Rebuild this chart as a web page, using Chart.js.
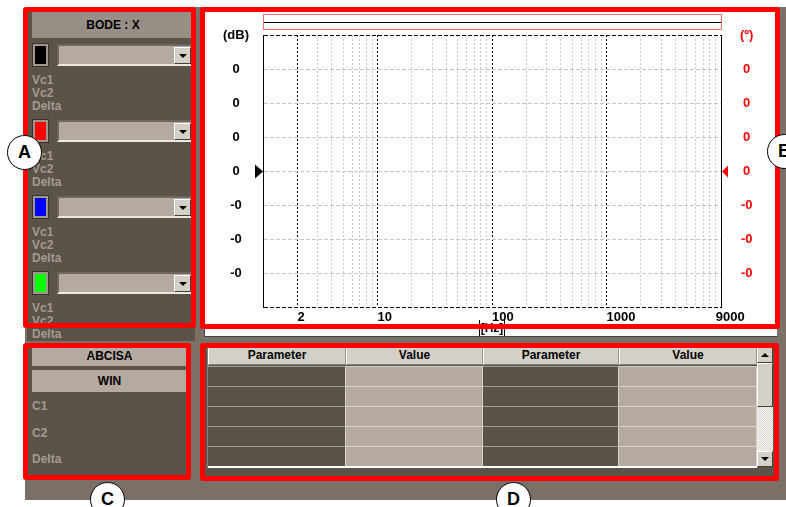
<!DOCTYPE html>
<html>
<head>
<meta charset="utf-8">
<script src="https://cdn.jsdelivr.net/npm/chart.js@4.4.1/dist/chart.umd.min.js"></script>
<style>
  html, body { margin: 0; padding: 0; }
  body {
    width: 786px; height: 507px; position: relative; overflow: hidden; background: #fff;
    font-family: "Liberation Sans", Arial, sans-serif; font-weight: bold; font-size: 12px;
  }
  .box { position: absolute; box-sizing: border-box; }
  .red { position: absolute; box-sizing: border-box; border: 5px solid #ff0000; border-radius: 3px; }
  .btn { background: #b4aaa1; color: #000; text-align: center; }
  .lbl { position: absolute; color: #a39b93; line-height: 13px; }
  .bevel { background: #d4d0c8; border: 1px solid; border-color: #fff #404040 #404040 #fff; }
  .circle {
    position: absolute; width: 35px; height: 35px; margin: -17px 0 0 -17px; box-sizing: border-box;
    border: 1.5px solid #000; border-radius: 50%; background: #fff;
    font-size: 18px; line-height: 32px; text-align: center; color: #000;
  }
</style>
</head>
<body>

<div class="box" style="left:25px;top:7px;width:761px;height:493px;background:#7a7068"></div>

<!-- A: channel selectors -->
<div class="box" style="left:27px;top:9px;width:168px;height:332px;background:#5b5248"></div>
<div class="box" style="left:32px;top:12px;width:162px;height:26px;background:#978e86;line-height:26px;text-align:center">BODE : X</div>
<div id="channels"></div>

<!-- B: bode plot -->
<div class="box" style="left:204px;top:10px;width:573px;height:327px;background:#fff;border-left:1px solid #404040;border-bottom:1px solid #404040"></div>
<div class="box" style="left:263px;top:14px;width:459px;height:16px;border:1px solid #f46d6d">
  <div style="position:absolute;left:0;right:0;top:7px;height:1px;background:#000"></div>
</div>
<canvas id="bode" width="572" height="314" style="position:absolute;left:204px;top:10px"></canvas>
<div class="box" style="left:479px;top:320px;width:26px;height:16px;border-left:1px solid #000;border-right:1px solid #000;text-align:center;line-height:16px">[Hz]</div>

<!-- C: cursors -->
<div class="box" style="left:27px;top:345px;width:163px;height:133px;background:#5b5248"></div>
<div class="box btn" style="left:32px;top:347px;width:155px;height:19px;line-height:19px">ABCISA</div>
<div class="box btn" style="left:32px;top:370px;width:155px;height:22px;line-height:22px">WIN</div>
<div id="cursors"></div>

<!-- D: parameter table -->
<div class="box" style="left:204px;top:345px;width:574px;height:133px;background:#5b5248"></div>
<div id="table"></div>

<div class="red" style="left:23px;top:7px;width:173px;height:321px"></div>
<div class="red" style="left:200px;top:7px;width:580px;height:322px"></div>
<div class="red" style="left:23px;top:343px;width:168px;height:137px"></div>
<div class="red" style="left:200px;top:343px;width:579px;height:138px"></div>

<div class="circle" style="left:24px;top:152px">A</div>
<div class="circle" style="left:784px;top:151px">B</div>
<div class="circle" style="left:107px;top:499px">C</div>
<div class="circle" style="left:513px;top:499px">D</div>

<script>
const freqGrid = [2, 3, 4, 5, 6, 7, 8, 9, 10, 20, 30, 40, 50, 60, 70, 80, 90, 100,
  200, 300, 400, 500, 600, 700, 800, 900, 1000, 2000, 3000, 4000, 5000, 6000, 7000, 8000, 9000];
const freqMajor = [2, 10, 100, 1000];
const freqLabels = [2, 10, 100, 1000, 9000];
const freqRange = [1, 10000];
const levelTicks = [0, 1, 2, 3, 4, 5, 6, 7, 8];
const dbLabels = ['', '-0', '-0', '-0', '0', '0', '0', '0', '(dB)'];
const phaseLabels = ['', '-0', '-0', '-0', '0', '0', '0', '0', '(º)'];
const cursorLevel = 4;
const channelColors = ['#000000', '#ff0000', '#0000ff', '#00ff00'];
const channelRows = ['Vc1', 'Vc2', 'Delta'];
const cursorRows = ['C1', 'C2', 'Delta'];
const tableHeaders = ['Parameter', 'Value', 'Parameter', 'Value'];
const tableRowCount = 5;
// nothing measured yet, every trace is empty
const channelData = [[], [], [], []];

// left panel: colour swatch + combo + readouts per channel
let html = '';
channelColors.forEach((color, i) => {
  const top = 44 + i * 76;
  html += `<div class="box" style="left:33px;top:${top}px;width:15px;height:22px;border:2px solid #a0968e;outline:1px solid #3a332c;background:${color}"></div>`;
  html += `<div class="box" style="left:57px;top:${top}px;width:138px;height:22px;background:#b4aaa1;border-top:2px solid #6f675f;border-left:2px solid #6f675f;border-bottom:2px solid #ece8e4">
    <div class="box bevel" style="left:115px;top:1px;width:17px;height:17px">
      <div style="position:absolute;left:4px;top:6px;border-left:4px solid transparent;border-right:4px solid transparent;border-top:4px solid #000"></div>
    </div></div>`;
  channelRows.forEach((t, j) => {
    html += `<div class="lbl" style="left:32px;top:${top + 30 + j * 13}px">${t}</div>`;
  });
});
document.getElementById('channels').innerHTML = html;

html = '';
cursorRows.forEach((t, j) => {
  html += `<div class="lbl" style="left:32px;top:${400 + j * 26.5}px">${t}</div>`;
});
document.getElementById('cursors').innerHTML = html;

// parameter table
const colLeft = [208, 346, 483, 619, 757];
html = `<div class="box" style="left:207px;top:347px;width:2px;height:121px;background:#8a827a"></div>`;
tableHeaders.forEach((h, c) => {
  const w = colLeft[c + 1] - colLeft[c];
  html += `<div class="box" style="left:${colLeft[c]}px;top:347px;width:${w}px;height:18px;background:#d4d0c8;border-left:1px solid #fff;border-right:1px solid #9a968e;border-bottom:1px solid #808080;text-align:center;line-height:17px">${h}</div>`;
  for (let r = 0; r < tableRowCount; r++) {
    const dark = c % 2 === 0;
    html += `<div class="box" style="left:${colLeft[c]}px;top:${366 + r * 20}px;width:${w}px;height:20px;background:${dark ? '#5b5248' : '#b4aaa1'};border-top:1px solid ${dark ? '#a59d95' : '#d8d2cc'};border-right:1px solid #d8d2cc"></div>`;
  }
});
html += `<div class="box" style="left:208px;top:466px;width:549px;height:2px;background:#fff"></div>`;
html += `<div class="box bevel" style="left:757px;top:347px;width:16px;height:16px">
  <div style="position:absolute;left:3px;top:5px;border-left:4px solid transparent;border-right:4px solid transparent;border-bottom:4px solid #000"></div></div>`;
html += `<div class="box bevel" style="left:757px;top:363px;width:16px;height:44px"></div>`;
html += `<div class="box" style="left:757px;top:407px;width:16px;height:44px;background:repeating-conic-gradient(#fff 0 25%, #d4d0c8 0 50%) 0 0/2px 2px"></div>`;
html += `<div class="box bevel" style="left:757px;top:451px;width:16px;height:16px">
  <div style="position:absolute;left:3px;top:5px;border-left:4px solid transparent;border-right:4px solid transparent;border-top:4px solid #000"></div></div>`;
document.getElementById('table').innerHTML = html;

Chart.defaults.font.family = '"Liberation Sans", Arial, sans-serif';
Chart.defaults.font.weight = 'bold';
Chart.defaults.font.size = 13;

// cursor arrows on both level axes
const cursorMarks = {
  id: 'cursorMarks',
  afterDraw(chart) {
    const { ctx, chartArea, scales } = chart;
    const y = Math.round(scales.y.getPixelForValue(cursorLevel)) + 0.5;
    ctx.save();
    ctx.fillStyle = '#000000';
    ctx.beginPath();
    ctx.moveTo(chartArea.left - 8, y - 7);
    ctx.lineTo(chartArea.left, y);
    ctx.lineTo(chartArea.left - 8, y + 7);
    ctx.fill();
    ctx.fillStyle = '#ff0000';
    ctx.beginPath();
    ctx.moveTo(chartArea.right + 7, y - 6);
    ctx.lineTo(chartArea.right + 1, y);
    ctx.lineTo(chartArea.right + 7, y + 6);
    ctx.fill();
    ctx.restore();
  }
};

// label offset comes from an invisible tick mark, so ticks.padding stays 0
// (a large padding would push the plot area in from top and bottom)
const levelAxis = (position, width, labels, color, gap) => ({
  position: position,
  min: levelTicks[0],
  max: levelTicks[levelTicks.length - 1],
  afterBuildTicks: axis => { axis.ticks = levelTicks.map(v => ({ value: v })); },
  afterFit: axis => { axis.width = width; },
  grid: {
    drawOnChartArea: position === 'left',
    drawTicks: true,
    tickLength: gap,
    tickColor: 'rgba(0,0,0,0)',
    color: c => (c.tick && (c.tick.value === 0 || c.tick.value === 8)) ? '#000000' : '#c6c6c6'
  },
  border: { display: true, color: '#000000', dash: [4, 2] },
  ticks: {
    crossAlign: 'center',
    padding: 0,
    color: color,
    callback: v => labels[v]
  }
});

new Chart(document.getElementById('bode'), {
  type: 'line',
  data: {
    datasets: channelColors.map((color, i) => ({
      data: channelData[i],
      borderColor: color,
      borderWidth: 1,
      pointRadius: 0,
      xAxisID: 'x',
      yAxisID: 'y'
    }))
  },
  options: {
    responsive: false,
    animation: false,
    layout: { padding: { top: 25, left: 0, right: 0, bottom: 0 } },
    plugins: {
      legend: { display: false },
      tooltip: { enabled: false }
    },
    scales: {
      x: {
        type: 'logarithmic',
        min: freqRange[0],
        max: freqRange[1],
        afterBuildTicks: axis => { axis.ticks = freqGrid.map(v => ({ value: v })); },
        afterFit: axis => { axis.height = 17; },
        grid: {
          drawTicks: false,
          color: c => (c.tick && freqMajor.includes(c.tick.value)) ? '#000000' : '#c6c6c6'
        },
        border: { display: false, dash: [2, 2] },
        ticks: {
          autoSkip: false,
          maxRotation: 0,
          minRotation: 0,
          align: 'start',
          padding: 3,
          color: '#000000',
          callback: v => freqLabels.includes(v) ? String(v) : ''
        }
      },
      y: levelAxis('left', 59, dbLabels, '#000000', 14),
      y2: levelAxis('right', 55, phaseLabels, '#ff0000', 19)
    }
  },
  plugins: [cursorMarks]
});
</script>
</body>
</html>
